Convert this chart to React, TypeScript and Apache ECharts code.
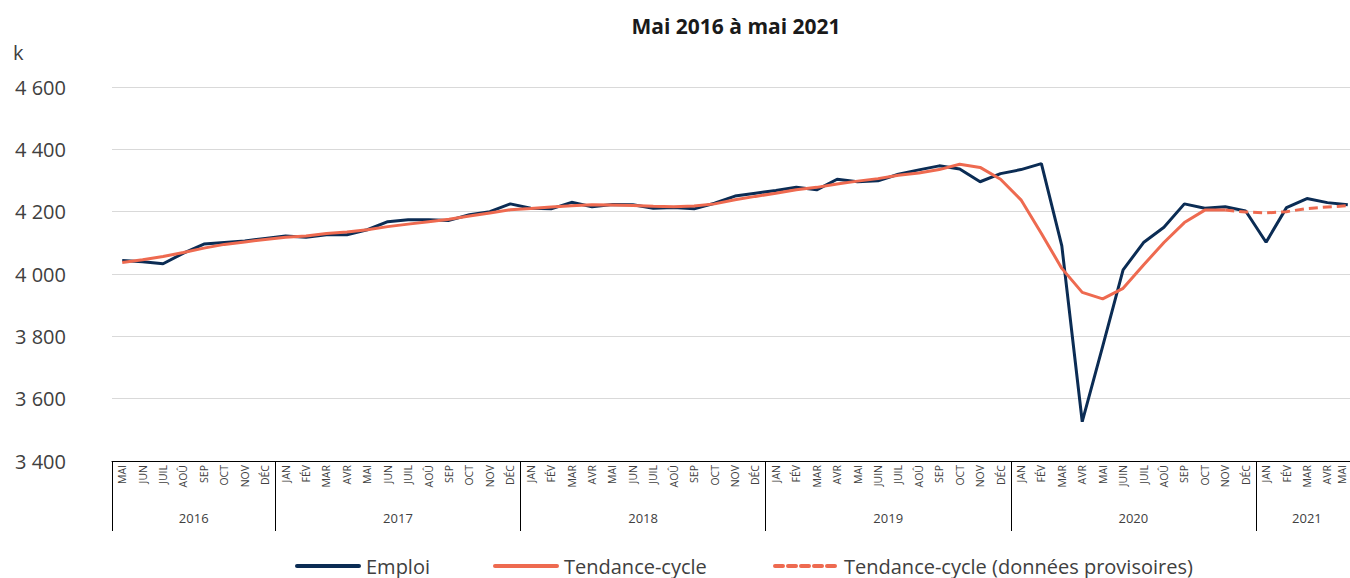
import React, { useEffect, useRef } from "react";
import * as echarts from "echarts";

const months: string[] = [
  "MAI", "JUN", "JUIL", "AOÛ", "SEP", "OCT", "NOV", "DÉC",
  "JAN", "FÉV", "MAR", "AVR", "MAI", "JUN", "JUIL", "AOÛ", "SEP", "OCT", "NOV", "DÉC",
  "JAN", "FÉV", "MAR", "AVR", "MAI", "JUN", "JUIL", "AOÛ", "SEP", "OCT", "NOV", "DÉC",
  "JAN", "FÉV", "MAR", "AVR", "MAI", "JUIN", "JUIL", "AOÛ", "SEP", "OCT", "NOV", "DÉC",
  "JAN", "FÉV", "MAR", "AVR", "MAI", "JUIN", "JUIL", "AOÛ", "SEP", "OCT", "NOV", "DÉC",
  "JAN", "FÉV", "MAR", "AVR", "MAI",
];

const years: string[] = ["2016", "2017", "2018", "2019", "2020", "2021"];
const yearStartIndex: number[] = [0, 8, 20, 32, 44, 56];

const emploi: number[] = [
  4043, 4039, 4033, 4067, 4096, 4101, 4106, 4114,
  4122, 4118, 4126, 4126, 4142, 4168, 4174, 4174, 4172, 4190, 4200, 4225,
  4211, 4209, 4230, 4216, 4223, 4222, 4211, 4213, 4209, 4227, 4250, 4259,
  4268, 4278, 4270, 4304, 4296, 4299, 4320, 4334, 4347, 4337, 4296, 4322,
  4335, 4354, 4090, 3526, 3768, 4013, 4101, 4150, 4225, 4211, 4216, 4202,
  4102, 4213, 4242, 4229, 4222,
];

const tendanceCycle: number[] = [
  4037, 4046, 4056, 4069, 4083, 4095, 4103, 4111,
  4118, 4122, 4130, 4135, 4142, 4152, 4160, 4168, 4176, 4186, 4196, 4206,
  4210, 4215, 4219, 4222, 4221, 4220, 4217, 4216, 4218, 4225, 4238, 4249,
  4259, 4270, 4278, 4289, 4298, 4306, 4317, 4324, 4335, 4352, 4342, 4304,
  4238, 4130, 4018, 3941, 3920, 3954, 4029, 4101, 4165, 4205, 4205, 4199,
  4196, 4200, 4210, 4215, 4219,
];

// index of the last definitive point (NOV 2020); provisional data follow
const provisoireStart = 54;

const seriesNames: string[] = ["Emploi", "Tendance-cycle", "Tendance-cycle (données provisoires)"];

const yTicks = { min: 3400, max: 4600, interval: 200 };

const NAVY = "#0b2c54";
const ORANGE = "#ee6a50";
const FONT = "'Open Sans', 'Noto Sans', sans-serif";

export default function App() {
  const ref = useRef<HTMLDivElement>(null);

  useEffect(() => {
    if (!ref.current) return;
    const chart = echarts.init(ref.current, undefined, { renderer: "svg" });

    const solid = tendanceCycle.map((v, i) => (i <= provisoireStart ? v : null));
    const dashed = tendanceCycle.map((v, i) => (i >= provisoireStart ? v : null));

    const yearCenters = yearStartIndex.map((s, i) => {
      const e = i + 1 < yearStartIndex.length ? yearStartIndex[i + 1] : months.length;
      return (s + e) / 2;
    });

    // the last month label sits at the page's right edge: nudge it inward
    const monthData = months.map((m, i) =>
      i === months.length - 1
        ? { value: m, textStyle: { verticalAlign: "bottom", lineHeight: 12 } }
        : m
    );

    const legendY = 566;
    const legendItems = [
      { x: 297, color: NAVY, dash: null as number[] | null, name: seriesNames[0] },
      { x: 495, color: ORANGE, dash: null as number[] | null, name: seriesNames[1] },
      { x: 775, color: ORANGE, dash: [8, 5], name: seriesNames[2] },
    ];
    const legendGraphics: any[] = [];
    legendItems.forEach((it) => {
      legendGraphics.push({
        type: "line",
        shape: { x1: it.x, y1: legendY, x2: it.x + 62, y2: legendY },
        style: { stroke: it.color, lineWidth: 4, lineDash: it.dash || undefined, lineCap: "round" },
      });
      legendGraphics.push({
        type: "text",
        x: it.x + 69,
        y: legendY,
        style: {
          text: it.name,
          fontFamily: FONT,
          fontSize: 20,
          fill: "#404040",
          verticalAlign: "middle",
          align: "left",
        },
      });
    });

    chart.setOption({
      animation: false,
      textStyle: { fontFamily: FONT },
      title: {
        text: "Mai 2016 à mai 2021",
        left: 731,
        top: 10,
        textAlign: "center",
        textStyle: { fontFamily: FONT, fontSize: 21, fontWeight: "bold", color: "#1a1a1a" },
      },
      graphic: [
        {
          type: "text",
          left: 13,
          top: 42,
          style: { text: "k", fontFamily: FONT, fontSize: 20, fill: "#404040" },
        },
        ...legendGraphics,
      ],
      grid: { left: 112, right: 0, top: 87, bottom: 117, containLabel: false },
      xAxis: [
        {
          type: "category",
          data: monthData,
          boundaryGap: true,
          axisLine: { show: true, lineStyle: { color: "#000", width: 1 } },
          axisTick: { show: false },
          axisLabel: {
            rotate: 90,
            interval: 0,
            margin: 4,
            fontSize: 10.5,
            fontFamily: FONT,
            color: "#404040",
          },
        },
        {
          type: "value",
          min: 0,
          max: months.length,
          position: "bottom",
          axisLine: { show: false },
          splitLine: { show: false },
          axisTick: {
            show: true,
            length: 70,
            customValues: yearStartIndex,
            lineStyle: { color: "#000", width: 1 },
          },
          axisLabel: {
            show: true,
            margin: 50,
            fontSize: 13,
            fontFamily: FONT,
            color: "#404040",
            customValues: yearCenters,
            formatter: (v: number) => {
              const k = yearCenters.findIndex((c) => Math.abs(c - v) < 0.01);
              return k >= 0 ? years[k] : "";
            },
          },
        },
      ],
      yAxis: {
        type: "value",
        min: yTicks.min,
        max: yTicks.max,
        interval: yTicks.interval,
        axisLine: { show: false },
        axisTick: { show: false },
        splitLine: { lineStyle: { color: "#d9d9d9", width: 1 } },
        axisLabel: {
          align: "left",
          margin: 97,
          fontSize: 20,
          fontFamily: FONT,
          color: "#404040",
          formatter: (v: number) =>
            `${Math.floor(v / 1000)} ${String(v % 1000).padStart(3, "0")}`,
        },
      },
      series: [
        {
          name: seriesNames[0],
          type: "line",
          data: emploi,
          symbol: "none",
          lineStyle: { color: NAVY, width: 3 },
          itemStyle: { color: NAVY },
        },
        {
          name: seriesNames[1],
          type: "line",
          data: solid,
          symbol: "none",
          lineStyle: { color: ORANGE, width: 3 },
          itemStyle: { color: ORANGE },
        },
        {
          name: seriesNames[2],
          type: "line",
          data: dashed,
          symbol: "none",
          lineStyle: { color: ORANGE, width: 3, type: [9, 5] },
          itemStyle: { color: ORANGE },
        },
      ],
    });

    return () => chart.dispose();
  }, []);

  return (
    <div
      style={{
        position: "fixed",
        left: 0,
        top: 0,
        width: 1350,
        height: 578,
        overflow: "hidden",
        background: "#fff",
      }}
    >
      <div ref={ref} style={{ width: 1358, height: 578 }} />
    </div>
  );
}
